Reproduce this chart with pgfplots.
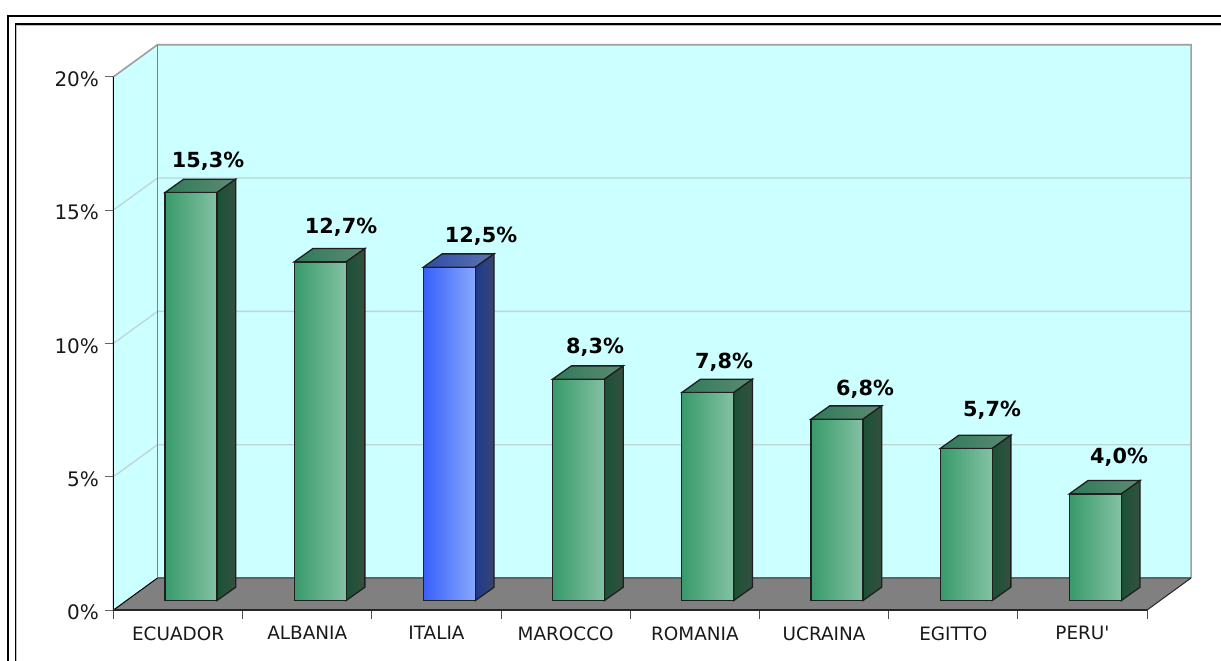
\documentclass[border=0pt]{standalone}
\usepackage{pgfplots}
\pgfplotsset{compat=1.18}
\usepackage{fontspec}
\setmainfont{DejaVu Sans}
\newfontfamily\plainfont{DejaVu Sans}
\definecolor{wall}{HTML}{CCFFFF}
\definecolor{floorc}{HTML}{808080}
\definecolor{gridc}{HTML}{BFD4D4}
% green bars
\definecolor{gfl}{HTML}{389A6A}\definecolor{gfm}{HTML}{62AE8A}\definecolor{gfr}{HTML}{84C2A4}
\definecolor{gtl}{HTML}{2F7A58}\definecolor{gtr}{HTML}{5C8A74}
\definecolor{gsl}{HTML}{1A5236}\definecolor{gsr}{HTML}{35503F}
% blue bar
\definecolor{bfl}{HTML}{3860F8}\definecolor{bfm}{HTML}{5E80FC}\definecolor{bfr}{HTML}{88A8FF}
\definecolor{btl}{HTML}{2F4CA8}\definecolor{btr}{HTML}{5C74B0}
\definecolor{bsl}{HTML}{1E3A90}\definecolor{bsr}{HTML}{38456F}
% one bar: #1 category position, #2 value, #3 colour prefix
\newcommand{\barthree}[3]{%
  \pgfmathsetmacro{\xa}{#1+0.3986}\pgfmathsetmacro{\xb}{#1+0.8011}%
  \pgfmathsetmacro{\xc}{\xa+0.1447}\pgfmathsetmacro{\xd}{\xb+0.1447}%
  \pgfmathsetmacro{\ya}{0.356}\pgfmathsetmacro{\yb}{#2+0.356}%
  \pgfmathsetmacro{\yc}{\ya+0.5}\pgfmathsetmacro{\yd}{\yb+0.5}%
  \edef\temp{%
  \noexpand\addplot[draw=black!88,line width=1.3pt,left color=#3tl,right color=#3tr]
    coordinates {(\xa,\yb)(\xb,\yb)(\xd,\yd)(\xc,\yd)} -- cycle;
  \noexpand\addplot[draw=black!88,line width=1.3pt,left color=#3sl,right color=#3sr]
    coordinates {(\xb,\ya)(\xd,\yc)(\xd,\yd)(\xb,\yb)} -- cycle;
  \noexpand\addplot[draw=black!88,line width=1.3pt,left color=#3fl,middle color=#3fm,right color=#3fr]
    coordinates {(\xa,\ya)(\xb,\ya)(\xb,\yb)(\xa,\yb)} -- cycle;
  }\temp}
\begin{document}
\begin{tikzpicture}[x=1pt,y=1pt]
\path[use as bounding box] (0,0) rectangle (1221,-661);
\draw[black,line width=2pt] (8.3,-661) -- (8.3,-16) -- (1221,-16);
\draw[black,line width=1.2pt] (16,-661) -- (16,-24) -- (1221,-24);
\draw[black!25,line width=0.8pt] (16.8,-661) -- (16.8,-25) -- (1221,-25);
\begin{axis}[
  at={(113.5pt,-610pt)},anchor=south west,
  scale only axis,width=1077.5pt,height=565.3pt,
  xmin=0,xmax=8.34,ymin=0,ymax=21.2,
  clip=false,
  axis line style={draw=none},
  tick align=outside,tick pos=left,
  major tick length=8.5pt,
  x tick label as interval,
  xtick={0,1,2,3,4,5,6,7,8},
  xticklabels={ECUADOR,ALBANIA,ITALIA,MAROCCO,ROMANIA,UCRAINA,EGITTO,{PERU{\plainfont'}}},
  x tick label style={font=\fontsize{18.4pt}{20pt}\selectfont,text=black!90,yshift=-4.5pt},
  x tick style={draw=black!70,line width=1pt},
  ytick={0,5,10,15,20},
  yticklabels={0\%,5\%,10\%,15\%,20\%},
  y tick label style={font=\fontsize{20pt}{22pt}\selectfont,text=black!90,xshift=-2.5pt,yshift=-2.5pt},
  y tick style={draw=black!60,line width=1pt},
]
% walls and floor
\addplot[fill=wall,draw=none] coordinates {(0,0)(0,20)(0.3406,21.2)(0.3406,1.2)} -- cycle;
\addplot[fill=wall,draw=none] coordinates {(0.3406,1.2)(8.3406,1.2)(8.3406,21.2)(0.3406,21.2)} -- cycle;
% grid on the walls
\addplot[gridc,line width=1.3pt] coordinates {(0,5)(0.3406,6.2)(8.3406,6.2)};
\addplot[gridc,line width=1.3pt] coordinates {(0,10)(0.3406,11.2)(8.3406,11.2)};
\addplot[gridc,line width=1.3pt] coordinates {(0,15)(0.3406,16.2)(8.3406,16.2)};
\addplot[black!38,line width=1.6pt] coordinates {(0,20)(0.3406,21.2)(8.3406,21.2)(8.3406,1.2)};
\addplot[black!50,line width=1.2pt] coordinates {(0.3406,21.2)(0.3406,1.2)};
% floor
\addplot[fill=floorc,draw=none] coordinates {(0,0)(8,0)(8.3406,1.2)(0.3406,1.2)} -- cycle;
\addplot[black!62,line width=1.2pt] coordinates {(0.3406,1.2)(8.3406,1.2)};
\addplot[black,line width=1pt] coordinates {(0,20)(0,0)(0.3406,1.2)};
\addplot[black!85,line width=1.8pt] coordinates {(0,0)(8,0)};
\addplot[black!85,line width=1pt] coordinates {(8,0)(8.3406,1.2)};
% bars
\barthree{0}{15.3}{g}
\barthree{1}{12.7}{g}
\barthree{2}{12.5}{b}
\barthree{3}{8.3}{g}
\barthree{4}{7.8}{g}
\barthree{5}{6.8}{g}
\barthree{6}{5.7}{g}
\barthree{7}{4.0}{g}
\end{axis}
\begin{scope}[every node/.style={font=\fontsize{20.8pt}{24pt}\selectfont\bfseries,text=black,inner sep=0pt}]
\node at (208,-161) {15,3\%};
\node at (341,-227) {12,7\%};
\node at (481,-236) {12,5\%};
\node at (595,-347) {8,3\%};
\node at (724,-362) {7,8\%};
\node at (865,-389) {6,8\%};
\node at (992,-410) {5,7\%};
\node at (1119,-457) {4,0\%};
\end{scope}
\end{tikzpicture}
\end{document}
